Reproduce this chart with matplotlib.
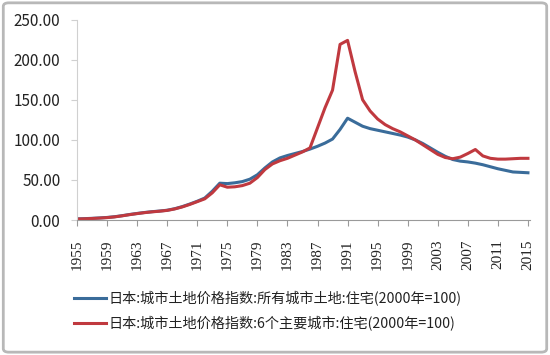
import matplotlib
matplotlib.use("Agg")
import matplotlib.pyplot as plt
from matplotlib.patches import FancyBboxPatch

plt.rcParams['font.family'] = ['Noto Sans CJK SC', 'DejaVu Sans']

years = list(range(1955, 2016))

all_cities = [1.5, 1.8, 2.2, 2.7, 3.3, 4.2, 5.5, 7.0, 8.3, 9.5,
              10.5, 11.3, 12.3, 14.2, 16.8, 20.0, 23.5, 27.5, 36.0, 46.0,
              45.5, 46.5, 48.0, 51.0, 56.5, 65.0, 72.5, 77.5, 80.5, 83.0,
              85.5, 88.5, 92.0, 96.0, 101.0, 113.0, 127.0, 122.0, 117.0, 114.0,
              112.0, 110.0, 108.0, 106.0, 103.5, 100.0, 95.5, 90.0, 84.5, 79.5,
              75.5, 73.5, 72.5, 71.0, 69.0, 66.5, 64.0, 62.0, 60.0, 59.5,
              59.0]

six_cities = [1.3, 1.6, 2.0, 2.5, 3.1, 4.0, 5.3, 6.8, 8.1, 9.3,
              10.3, 11.1, 12.1, 13.9, 16.4, 19.5, 23.0, 26.5, 34.0, 44.0,
              41.0, 41.5, 43.0, 46.0, 53.0, 63.0, 70.0, 74.0, 77.0, 81.0,
              85.0, 90.0, 115.0, 140.0, 162.0, 219.0, 224.0, 185.0, 150.0, 136.0,
              126.0, 119.0, 114.0, 110.0, 105.0, 100.0, 94.0, 88.0, 82.0, 78.0,
              76.5, 78.5, 83.0, 88.0, 80.0, 77.0, 76.0, 76.0, 76.5, 77.0,
              77.0]

label_all = "日本:城市土地价格指数:所有城市土地:住宅(2000年=100)"
label_six = "日本:城市土地价格指数:6个主要城市:住宅(2000年=100)"

xticks = list(range(1955, 2016, 4))
yticks = [0, 50, 100, 150, 200, 250]

fig = plt.figure(figsize=(5.5, 3.55), dpi=100)
fig.patch.set_facecolor('white')
border = FancyBboxPatch((0.006, 0.008), 0.988, 0.984, boxstyle="round,pad=0,rounding_size=0.01",
                        transform=fig.transFigure, facecolor='none', edgecolor='#b8b8b8', linewidth=2.0)
fig.patches.append(border)

ax = fig.add_axes([0.14, 0.38, 0.824, 0.565])
ax.plot(years, all_cities, color='#3a6c9a', linewidth=2.2, label=label_all)
ax.plot(years, six_cities, color='#c0393f', linewidth=2.2, label=label_six)

ax.set_xlim(1955, 2015.3)
ax.set_ylim(0, 250)
ax.set_xticks(xticks)
ax.set_xticklabels([str(y) for y in xticks], rotation=90, fontsize=11,
                   family='Liberation Serif', color='#222222')
ax.set_yticks(yticks)
ax.set_yticklabels([f"{v:.2f}" for v in yticks], fontsize=11, color='#222222')

for s in ['top', 'right']:
    ax.spines[s].set_visible(False)
ax.spines['left'].set_color('#d0d0d0')
ax.spines['bottom'].set_color('#9a9a9a')
ax.tick_params(axis='y', length=4, color='#d0d0d0', pad=8)
ax.tick_params(axis='x', length=4, color='#9a9a9a', pad=10)

leg = fig.legend(loc='upper left', bbox_to_anchor=(0.125, 0.195), frameon=False,
                 fontsize=10.2, handlelength=2.2, handletextpad=0.2, labelspacing=0.7,
                 borderaxespad=0)
for t in leg.get_texts():
    t.set_color('#222222')

fig.savefig('out.png', dpi=100, facecolor='white')
